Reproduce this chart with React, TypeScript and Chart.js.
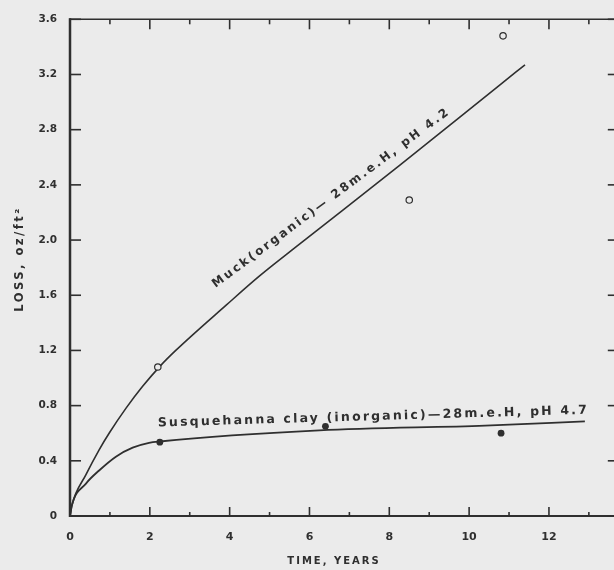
import React, { useEffect, useRef } from 'react';
import { Chart, registerables } from 'chart.js';

Chart.register(...registerables);

const BG = '#ebebeb';
const INK = '#2f2f2f';

// axis ticks
const xTicks = [0, 1, 2, 3, 4, 5, 6, 7, 8, 9, 10, 11, 12, 13];
const xTickLabels = ['0', '', '2', '', '4', '', '6', '', '8', '', '10', '', '12', ''];
const yTicks = [0, 0.4, 0.8, 1.2, 1.6, 2.0, 2.4, 2.8, 3.2, 3.6];
const yTickLabels = ['0', '0.4', '0.8', '1.2', '1.6', '2.0', '2.4', '2.8', '3.2', '3.6'];

// fitted curves
const muckCurveYears = [0, 0.05, 0.4, 0.73, 0.98, 1.4, 1.82, 2.27, 2.65, 3.92, 4.75, 5.75, 8.25, 10.75, 11.4];
const muckCurveLoss = [0, 0.08, 0.3, 0.48, 0.6, 0.78, 0.94, 1.09, 1.2, 1.53, 1.74, 1.97, 2.54, 3.12, 3.27];
const clayCurveYears = [0, 0.05, 0.4, 0.73, 1.15, 1.57, 1.98, 2.25, 6.25, 10.4, 12.9];
const clayCurveLoss = [0, 0.08, 0.235, 0.33, 0.43, 0.495, 0.53, 0.54, 0.62, 0.655, 0.686];

// observations
const muckObsYears = [2.2, 8.5, 10.85];
const muckObsLoss = [1.08, 2.29, 3.48];
const clayObsYears = [2.25, 6.4, 10.8];
const clayObsLoss = [0.535, 0.65, 0.6];

const muckLabel = 'Muck(organic)— 28m.e.H, pH 4.2';
const clayLabel = 'Susquehanna clay (inorganic)—28m.e.H, pH 4.7';
const xTitle = 'TIME, YEARS';
const yTitle = 'LOSS, oz/ft²';

const zip = (xs: number[], ys: number[]) => xs.map((x, i) => ({ x, y: ys[i] }));

function drawFitted(ctx: CanvasRenderingContext2D, text: string, x0: number, y0: number, x1: number, y1: number, font: string) {
  const len = Math.hypot(x1 - x0, y1 - y0);
  const ang = Math.atan2(y1 - y0, x1 - x0);
  ctx.save();
  ctx.font = font;
  (ctx as any).letterSpacing = '0px';
  const w = ctx.measureText(text).width;
  const n = [...text].length;
  ctx.translate(x0, y0);
  ctx.rotate(ang);
  ctx.textAlign = 'left';
  ctx.textBaseline = 'middle';
  ctx.fillStyle = INK;
  if (w < len) {
    (ctx as any).letterSpacing = ((len - w) / (n - 1)).toFixed(2) + 'px';
  } else {
    ctx.scale(len / w, 1);
  }
  ctx.fillText(text, 0, 0);
  ctx.restore();
}

const framePlugin = {
  id: 'frame',
  beforeDraw(chart: any) {
    const ctx = chart.ctx;
    ctx.save();
    ctx.fillStyle = BG;
    ctx.fillRect(0, 0, chart.width, chart.height);
    ctx.restore();
  },
  afterDraw(chart: any) {
    const ctx: CanvasRenderingContext2D = chart.ctx;
    const ca = chart.chartArea;
    const xs = chart.scales.x;
    const ys = chart.scales.y;
    ctx.save();
    ctx.strokeStyle = INK;
    ctx.lineCap = 'butt';
    // frame
    ctx.lineWidth = 2.5;
    ctx.beginPath(); ctx.moveTo(ca.left, ca.top - 1); ctx.lineTo(ca.left, ca.bottom + 1); ctx.stroke();
    ctx.lineWidth = 2;
    ctx.beginPath(); ctx.moveTo(ca.left - 1, ca.bottom); ctx.lineTo(ca.right, ca.bottom); ctx.stroke();
    ctx.lineWidth = 1.5;
    ctx.beginPath(); ctx.moveTo(ca.left - 1, ca.top); ctx.lineTo(ca.right, ca.top); ctx.stroke();
    ctx.beginPath(); ctx.moveTo(ca.right, ca.top); ctx.lineTo(ca.right, ca.bottom); ctx.stroke();
    // y ticks (inward)
    ctx.lineWidth = 1.6;
    yTicks.forEach((v) => {
      const py = ys.getPixelForValue(v);
      ctx.beginPath(); ctx.moveTo(ca.left, py); ctx.lineTo(ca.left + 11, py); ctx.stroke();
      ctx.beginPath(); ctx.moveTo(ca.right, py); ctx.lineTo(ca.right - 9, py); ctx.stroke();
    });
    // x ticks (inward)
    xTicks.forEach((v, i) => {
      const px = xs.getPixelForValue(v);
      const major = xTickLabels[i] !== '';
      ctx.beginPath(); ctx.moveTo(px, ca.bottom); ctx.lineTo(px, ca.bottom - (major ? 9 : 4)); ctx.stroke();
      ctx.beginPath(); ctx.moveTo(px, ca.top); ctx.lineTo(px, ca.top + (major ? 10 : 5)); ctx.stroke();
    });
    ctx.restore();

    // annotations along the curves
    drawFitted(ctx, muckLabel,
      xs.getPixelForValue(3.6), ys.getPixelForValue(1.67),
      xs.getPixelForValue(9.45), ys.getPixelForValue(2.93), 'bold 12px "DejaVu Sans"');
    drawFitted(ctx, clayLabel,
      xs.getPixelForValue(2.2), ys.getPixelForValue(0.672),
      xs.getPixelForValue(12.95), ys.getPixelForValue(0.765), 'bold 12.5px "DejaVu Sans"');

    // axis titles
    ctx.save();
    ctx.fillStyle = INK;
    ctx.font = 'bold 10px "DejaVu Sans"';
    (ctx as any).letterSpacing = '2px';
    ctx.textAlign = 'center';
    ctx.textBaseline = 'middle';
    ctx.fillText(xTitle, 334, 561);
    ctx.font = 'bold 11.5px "DejaVu Sans"';
    (ctx as any).letterSpacing = '2.5px';
    ctx.translate(20, 259);
    ctx.rotate(-Math.PI / 2);
    ctx.fillText(yTitle, 0, 0);
    ctx.restore();
  },
};

export default function App() {
  const ref = useRef<HTMLCanvasElement | null>(null);
  useEffect(() => {
    document.body.style.overflow = 'hidden';
    document.body.style.background = BG;
    const canvas = ref.current!;
    const chart = new Chart(canvas, {
      type: 'scatter',
      data: {
        datasets: [
          {
            data: zip(muckObsYears, muckObsLoss),
            pointRadius: 3.2,
            pointBackgroundColor: BG,
            pointBorderColor: INK,
            pointBorderWidth: 1.2,
            showLine: false,
          },
          {
            data: zip(clayObsYears, clayObsLoss),
            pointRadius: 3.4,
            pointBackgroundColor: INK,
            pointBorderColor: INK,
            pointBorderWidth: 0,
            showLine: false,
          },
          {
            data: zip(muckCurveYears, muckCurveLoss),
            showLine: true,
            pointRadius: 0,
            borderColor: INK,
            borderWidth: 1.6,
            cubicInterpolationMode: 'monotone',
          },
          {
            data: zip(clayCurveYears, clayCurveLoss),
            showLine: true,
            pointRadius: 0,
            borderColor: INK,
            borderWidth: 1.8,
            cubicInterpolationMode: 'monotone',
          },
        ],
      } as any,
      options: {
        animation: false,
        responsive: false,
        devicePixelRatio: 1,
        layout: { padding: { top: 15, right: 4, left: 0, bottom: 0 } },
        plugins: { legend: { display: false }, tooltip: { enabled: false } },
        scales: {
          x: {
            type: 'linear',
            min: 0,
            max: 13.7,
            afterBuildTicks: (s: any) => { s.ticks = xTicks.map((v) => ({ value: v })); },
            afterFit: (s: any) => { s.height = 54; },
            grid: { display: false, drawTicks: false },
            border: { display: false },
            ticks: {
              padding: 15,
              color: INK,
              font: { family: 'DejaVu Sans', size: 11, weight: 'bold' },
              maxRotation: 0,
              autoSkip: false,
              callback: (_v: any, i: number) => xTickLabels[i],
            },
          },
          y: {
            type: 'linear',
            min: 0,
            max: 3.6,
            afterBuildTicks: (s: any) => { s.ticks = yTicks.map((v) => ({ value: v })); },
            afterFit: (s: any) => { s.width = 70; },
            grid: { display: false, drawTicks: false },
            border: { display: false },
            ticks: {
              padding: 13,
              color: INK,
              font: { family: 'DejaVu Sans', size: 10.5, weight: 'bold' },
              autoSkip: false,
              callback: (_v: any, i: number) => yTickLabels[i],
            },
          },
        },
      } as any,
      plugins: [framePlugin],
    });
    return () => chart.destroy();
  }, []);
  return (
    <div style={{ position: 'fixed', left: 0, top: 0, width: 614, height: 570, overflow: 'hidden', background: BG }}>
      <canvas ref={ref} width={622} height={570} style={{ display: 'block', width: 622, height: 570 }} />
    </div>
  );
}
